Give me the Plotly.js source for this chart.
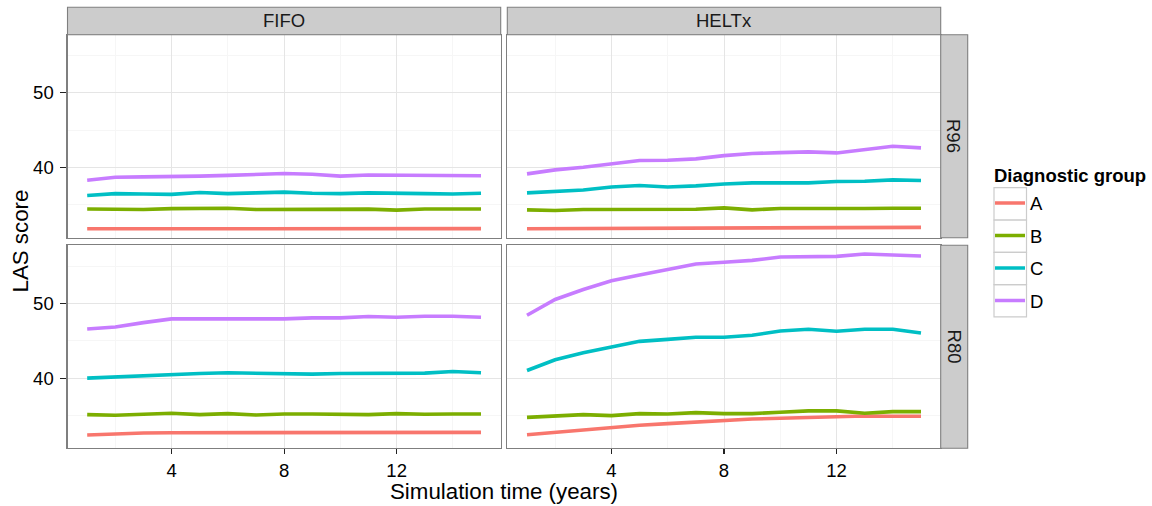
<!DOCTYPE html>
<html><head><meta charset="utf-8">
<script src="https://cdn.plot.ly/plotly-3.0.1.min.js"></script>
<style>html,body{margin:0;padding:0;background:#fff}#chart{width:1152px;height:506px}</style>
</head><body><div id="chart"></div>
<script>
// ---- data ----
const years = [1,2,3,4,5,6,7,8,9,10,11,12,13,14,15];
const groups = ['A','B','C','D'];
const groupColors = ['#F8766D','#7CAE00','#00BFC4','#C77CFF'];
const policies = ['FIFO','HELTx'];
const rules = ['R96','R80'];
const xTickVals = [4,8,12];
const xMinorVals = [2,6,10,14];
const yTickVals = [40,50];
const yMinorVals = [35,45,55];

// FIFO, R96
const fifoR96_A = [31.80,31.80,31.82,31.83,31.84,31.85,31.84,31.85,31.84,31.84,31.83,31.83,31.82,31.82,31.82];
const fifoR96_B = [34.45,34.42,34.38,34.50,34.50,34.55,34.38,34.40,34.48,34.48,34.43,34.30,34.44,34.44,34.44];
const fifoR96_C = [36.25,36.50,36.45,36.40,36.65,36.50,36.60,36.70,36.55,36.50,36.60,36.60,36.50,36.45,36.55];
const fifoR96_D = [38.30,38.70,38.75,38.75,38.85,38.95,39.10,39.20,39.10,38.85,39.00,39.00,38.90,38.90,38.90];
// HELTx, R96
const heltxR96_A = [31.80,31.81,31.82,31.84,31.85,31.86,31.87,31.89,31.90,31.91,31.92,31.93,31.95,31.97,31.99];
const heltxR96_B = [34.33,34.24,34.38,34.38,34.38,34.38,34.42,34.60,34.33,34.51,34.51,34.42,34.51,34.55,34.55];
const heltxR96_C = [36.60,36.83,37.00,37.40,37.59,37.40,37.54,37.80,37.95,37.95,37.95,38.13,38.17,38.35,38.26];
const heltxR96_D = [39.15,39.69,40.04,40.54,40.94,40.98,41.16,41.60,41.88,42.00,42.10,41.96,42.37,42.86,42.63];
// FIFO, R80
const fifoR80_A = [32.38,32.56,32.65,32.69,32.69,32.74,32.74,32.78,32.70,32.70,32.74,32.78,32.74,32.74,32.74];
const fifoR80_B = [35.11,35.02,35.16,35.29,35.11,35.25,35.07,35.20,35.20,35.20,35.11,35.25,35.16,35.20,35.20];
const fifoR80_C = [40.00,40.18,40.36,40.54,40.63,40.72,40.67,40.54,40.54,40.63,40.67,40.63,40.67,40.90,40.72];
const fifoR80_D = [46.59,46.86,47.44,47.94,47.94,47.90,47.98,47.94,48.07,48.07,48.25,48.16,48.30,48.30,48.16];
// HELTx, R80
const heltxR80_A = [32.42,32.74,33.14,33.45,33.68,33.90,34.13,34.35,34.53,34.62,34.71,34.80,34.93,34.89,34.89];
const heltxR80_B = [34.75,34.89,35.11,34.98,35.25,35.20,35.38,35.25,35.25,35.43,35.61,35.61,35.29,35.52,35.52];
const heltxR80_C = [41.03,42.47,43.41,44.22,44.93,45.20,45.47,45.47,45.74,46.32,46.55,46.28,46.55,46.55,46.05];
const heltxR80_D = [48.43,50.54,51.88,53.05,53.81,54.57,55.29,55.52,55.78,56.23,56.23,56.32,56.64,56.50,56.37];

const panelData = [
  [[fifoR96_A,fifoR96_B,fifoR96_C,fifoR96_D],[heltxR96_A,heltxR96_B,heltxR96_C,heltxR96_D]],
  [[fifoR80_A,fifoR80_B,fifoR80_C,fifoR80_D],[heltxR80_A,heltxR80_B,heltxR80_C,heltxR80_D]]
];

// ---- layout geometry (pixels) ----
const W = 1152, H = 506;
const fx = p => p / W;
const fy = p => 1 - p / H;
const colPx = [[67.5,500.7],[507.3,940.7]];
const rowPx = [[34.7,237.7],[245.3,448.3]];
const stripTop = 7.3, stripRight = 967.7;
const FONT = '"Liberation Sans", Arial, Helvetica, sans-serif';
const SMALL = 18.5, BIG = 22.3;

const traces = [];
const layout = {
  width: W, height: H,
  margin: {l:0, r:0, t:0, b:0},
  paper_bgcolor: '#ffffff', plot_bgcolor: '#ffffff',
  font: {family: FONT, size: SMALL, color: '#000000'},
  showlegend: true,
  legend: {
    x: fx(990), xanchor: 'left', y: fy(184.5), yanchor: 'top',
    traceorder: 'grouped', tracegroupgap: 5.45,
    font: {family: FONT, size: SMALL, color: '#000'},
    bgcolor: 'rgba(0,0,0,0)', borderwidth: 0, itemwidth: 30
  },
  shapes: [], annotations: []
};

for (let r = 0; r < 2; r++) {
  for (let c = 0; c < 2; c++) {
    const n = r * 2 + c + 1;
    const sx = n === 1 ? '' : String(n);
    const isBottom = r === 1, isLeft = c === 0;
    layout['xaxis' + sx] = {
      domain: [fx(colPx[c][0]), fx(colPx[c][1])],
      range: [0.3, 15.7], anchor: 'y' + sx,
      tickmode: 'array', tickvals: xTickVals, ticktext: xTickVals.map(String),
      showticklabels: isBottom, ticks: isBottom ? 'outside' : '', ticklen: 5, tickwidth: 1.1, tickcolor: '#222',
      tickfont: {family: FONT, size: SMALL, color: '#000'},
      showline: true, mirror: true, linecolor: '#7F7F7F', linewidth: 1.1,
      showgrid: true, gridcolor: '#E5E5E5', gridwidth: 1,
      minor: {tickmode: 'array', tickvals: xMinorVals, showgrid: true, gridcolor: '#F6F6F6', gridwidth: 1, ticks: ''},
      zeroline: false, fixedrange: true
    };
    layout['yaxis' + sx] = {
      domain: [fy(rowPx[r][1]), fy(rowPx[r][0])],
      range: [30.6, 57.8], anchor: 'x' + sx,
      tickmode: 'array', tickvals: yTickVals, ticktext: yTickVals.map(String),
      showticklabels: isLeft, ticks: isLeft ? 'outside' : '', ticklen: 6, tickwidth: 1.1, tickcolor: '#222',
      ticklabelstandoff: 3,
      tickfont: {family: FONT, size: SMALL, color: '#000'},
      showline: true, mirror: true, linecolor: '#7F7F7F', linewidth: 1.1,
      showgrid: true, gridcolor: '#E5E5E5', gridwidth: 1,
      minor: {tickmode: 'array', tickvals: yMinorVals, showgrid: true, gridcolor: '#F6F6F6', gridwidth: 1, ticks: ''},
      zeroline: false, fixedrange: true
    };
    groups.forEach((g, gi) => {
      traces.push({
        type: 'scatter', mode: 'lines',
        x: years, y: panelData[r][c][gi],
        xaxis: 'x' + sx, yaxis: 'y' + sx,
        name: g, legendgroup: g, showlegend: n === 1,
        line: {color: groupColors[gi], width: 3.6},
        hoverinfo: 'skip'
      });
    });
  }
}

// strips
policies.forEach((p, c) => {
  layout.shapes.push({type: 'rect', xref: 'paper', yref: 'paper',
    x0: fx(colPx[c][0]), x1: fx(colPx[c][1]), y0: fy(rowPx[0][0]), y1: fy(stripTop),
    fillcolor: '#CCCCCC', line: {color: '#7F7F7F', width: 1.1}, layer: 'above'});
  layout.annotations.push({xref: 'paper', yref: 'paper', showarrow: false,
    x: fx((colPx[c][0] + colPx[c][1]) / 2), y: fy((stripTop + rowPx[0][0]) / 2),
    xanchor: 'center', yanchor: 'middle', text: p,
    font: {family: FONT, size: SMALL, color: '#1a1a1a'}});
});
rules.forEach((rl, r) => {
  layout.shapes.push({type: 'rect', xref: 'paper', yref: 'paper',
    x0: fx(colPx[1][1]), x1: fx(stripRight), y0: fy(rowPx[r][1]), y1: fy(rowPx[r][0]),
    fillcolor: '#CCCCCC', line: {color: '#7F7F7F', width: 1.1}, layer: 'above'});
  layout.annotations.push({xref: 'paper', yref: 'paper', showarrow: false,
    x: fx((colPx[1][1] + stripRight) / 2), y: fy((rowPx[r][0] + rowPx[r][1]) / 2),
    xanchor: 'center', yanchor: 'middle', text: rl, textangle: 90,
    font: {family: FONT, size: SMALL, color: '#1a1a1a'}});
});

// legend title and key boxes
layout.annotations.push({xref: 'paper', yref: 'paper', showarrow: false,
  x: fx(992), y: fy(175), xanchor: 'left', yanchor: 'middle',
  text: '<b>Diagnostic group</b>', font: {family: FONT, size: SMALL, color: '#000'}});
const keyTop = 187.7, keyH = 32.3;
groups.forEach((g, gi) => {
  layout.shapes.push({type: 'rect', xref: 'paper', yref: 'paper',
    x0: fx(994), x1: fx(1026.5), y0: fy(keyTop + keyH * (gi + 1)), y1: fy(keyTop + keyH * gi),
    fillcolor: 'rgba(0,0,0,0)', line: {color: '#CCCCCC', width: 1.2}, layer: 'below'});
});

// shared axis titles
layout.annotations.push({xref: 'paper', yref: 'paper', showarrow: false,
  x: fx((colPx[0][0] + colPx[1][1]) / 2), y: fy(491), xanchor: 'center', yanchor: 'middle',
  text: 'Simulation time (years)', font: {family: FONT, size: BIG, color: '#000'}});
layout.annotations.push({xref: 'paper', yref: 'paper', showarrow: false,
  x: fx(20), y: fy((rowPx[0][0] + rowPx[1][1]) / 2), xanchor: 'center', yanchor: 'middle',
  text: 'LAS score', textangle: -90, font: {family: FONT, size: BIG, color: '#000'}});

Plotly.newPlot('chart', traces, layout, {displayModeBar: false, staticPlot: true});
</script>
</body></html>
